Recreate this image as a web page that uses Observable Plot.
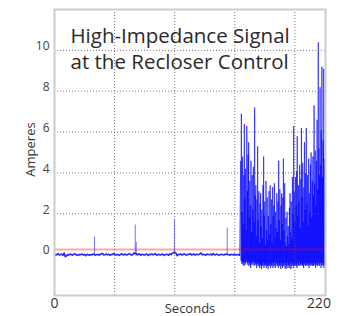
<!DOCTYPE html>
<html>
<head>
<meta charset="utf-8">
<script src="https://cdn.jsdelivr.net/npm/d3@7"></script>
<script src="https://cdn.jsdelivr.net/npm/@observablehq/plot@0.6"></script>
<style>
  html, body { margin: 0; padding: 0; background: #fff; }
  #chart { width: 343px; height: 316px; overflow: hidden; }
</style>
</head>
<body>
<div id="chart"></div>
<script>
// ---- Data ----
const titleLines = ["High-Impedance Signal", "at the Recloser Control"];
const xLabel = "Seconds";
const yLabel = "Amperes";
const xTickLabels = [0, 220];
const xGrid = [50, 100, 150, 200];
const yTicks = [0, 2, 4, 6, 8, 10];
const yGrid = [2, 4, 6, 8, 10];
const pickupLevel = 0.25;   // red threshold line (A)

// quiet period: one sample per second, t = 0 .. 154 s
const quietAmps = [
  0.02,-0.03,0.01,0.05,-0.02,0.0,0.03,-0.04,0.08,-0.1,
  -0.06,0.01,-0.02,0.03,0.0,-0.03,0.02,0.04,-0.01,0.0,
  -0.04,0.02,0.0,0.03,-0.02,0.01,-0.05,0.02,0.0,-0.03,
  0.01,-0.02,0.03,0.02,-0.04,0.0,0.02,-0.03,0.01,0.04,
  0.06,-0.02,0.0,0.03,-0.01,0.02,-0.03,0.01,0.0,0.05,
  0.03,-0.02,0.01,0.0,-0.04,0.02,0.04,-0.01,0.0,0.03,
  -0.02,0.01,0.05,0.02,-0.03,0.0,0.08,0.05,0.04,-0.02,
  0.04,0.01,-0.03,0.02,0.0,-0.02,0.03,0.01,-0.04,0.02,
  0.0,0.03,-0.01,0.02,0.05,-0.03,0.0,0.02,-0.02,0.01,
  0.03,-0.04,0.0,0.02,0.01,-0.03,0.04,0.0,0.06,0.1,
  0.12,0.08,-0.05,0.02,0.0,0.03,-0.02,0.01,0.04,0.0,
  -0.03,0.02,0.01,0.05,-0.01,0.0,0.03,-0.02,0.02,0.01,
  0.0,0.04,0.08,-0.01,0.02,0.0,-0.03,0.03,0.01,0.0,
  0.02,-0.02,0.05,0.0,-0.01,0.03,0.0,-0.04,0.02,0.01,
  0.0,-0.02,0.03,0.01,0.02,0.0,-0.03,0.02,0.0,-0.01,
  0.02,-0.02,0.0,0.01,-0.03
];
// brief spikes during the quiet period
const spikeTimes = [33.3, 67.2, 68.0, 99.8, 143.7];
const spikePeaks = [0.85, 1.45, 0.6, 1.7, 1.3];

// fault period: peaks every 0.5 s from t = 155 s, troughs in between
const faultStart = 155;
const faultPeaks = [
  4.6,6.9,2.1,4.8,1.5,3.9,6.4,2.8,4.2,1.2,
  6.3,3.1,4.9,5.5,1.8,3.6,2.4,4.6,1.1,3.9,
  2.2,4.3,1.6,7.2,2.9,3.4,0.9,2.7,5.3,1.7,
  3.1,0.6,2.5,3.0,1.4,2.2,0.8,3.4,4.8,1.9,
  2.6,0.5,3.6,1.2,2.8,0.7,1.9,3.1,1.0,3.4,
  1.5,2.7,0.6,3.3,1.9,2.4,3.5,0.8,2.1,1.3,
  3.0,1.1,2.6,4.6,1.7,3.2,0.7,2.4,3.0,1.5,
  2.8,4.7,1.2,3.5,0.6,1.8,0.4,2.1,0.9,1.4,
  0.5,2.3,3.0,1.1,2.6,0.8,3.8,2.0,6.3,3.1,
  1.6,3.8,2.4,4.1,5.8,1.9,3.4,2.6,4.4,1.3,
  3.7,6.2,2.8,4.5,1.6,3.3,5.5,2.2,4.0,6.2,
  2.5,3.9,1.4,4.7,3.0,2.1,4.4,5.0,1.8,3.6,
  4.8,2.9,7.3,3.5,5.1,2.4,4.6,6.6,3.2,10.4,
  5.2,3.9,8.2,4.4,6.1,9.2,3.8,5.6,9.1,4.7
];
const faultTroughs = [
  -0.3,-0.45,-0.35,-0.5,-0.4,-0.55,-0.35,-0.5,-0.4,-0.3,
  -0.4,-0.5,-0.35,-0.55,-0.4,-0.5,-0.65,-0.4,-0.5,-0.35,
  -0.5,-0.4,-0.55,-0.35,-0.5,-0.45,-0.65,-0.5,-0.35,-0.55,
  -0.45,-0.65,-0.5,-0.55,-0.7,-0.5,-0.55,-0.4,-0.65,-0.5,
  -0.55,-0.5,-0.65,-0.4,-0.55,-0.7,-0.5,-0.55,-0.4,-0.65,
  -0.5,-0.55,-0.4,-0.65,-0.5,-0.55,-0.35,-0.65,-0.5,-0.4,
  -0.55,-0.5,-0.65,-0.4,-0.55,-0.5,-0.7,-0.4,-0.55,-0.65,
  -0.5,-0.55,-0.4,-0.65,-0.5,-0.7,-0.55,-0.4,-0.65,-0.5,
  -0.55,-0.65,-0.4,-0.7,-0.5,-0.55,-0.4,-0.65,-0.5,-0.55,
  -0.4,-0.55,-0.5,-0.65,-0.4,-0.55,-0.5,-0.35,-0.55,-0.5,
  -0.5,-0.4,-0.55,-0.5,-0.65,-0.4,-0.5,-0.55,-0.4,-0.5,
  -0.55,-0.4,-0.5,-0.65,-0.5,-0.4,-0.55,-0.5,-0.4,-0.55,
  -0.5,-0.55,-0.4,-0.5,-0.65,-0.5,-0.4,-0.55,-0.5,-0.4,
  -0.55,-0.5,-0.4,-0.65,-0.5,-0.4,-0.55,-0.5,-0.65,-0.5
];

// ---- Build tables ----
const quiet = quietAmps.map((a, i) => ({t: i, a}));
const spikes = spikeTimes.map((t, i) => ({t, a: spikePeaks[i]}));
const faultPts = [{t: quietAmps.length - 1, a: quietAmps[quietAmps.length - 1]}];
faultPeaks.forEach((p, i) => {
  faultPts.push({t: faultStart + i * 0.5, a: p});
  faultPts.push({t: faultStart + i * 0.5 + 0.25, a: faultTroughs[i]});
});
// each sample-to-sample stroke as its own segment so overlapping strokes darken
const faultSegs = d3.pairs(faultPts).map(([p, q]) => ({t1: p.t, a1: p.a, t2: q.t, a2: q.a}));

const chart = Plot.plot({
  width: 343,
  height: 316,
  marginLeft: 54,
  marginRight: 18,
  marginTop: 9,
  marginBottom: 21,
  style: {fontFamily: "'Open Sans', sans-serif", color: "#333", background: "#fff"},
  x: {domain: [0, 225.5]},
  y: {domain: [-2, 12]},
  marks: [
    Plot.line(quiet, {x: "t", y: "a", stroke: "#0000ff", strokeOpacity: 0.85, strokeWidth: 1.6}),
    Plot.ruleX(spikes, {x: "t", y1: 0, y2: "a", stroke: "#0000ff", strokeOpacity: 0.55, strokeWidth: 1}),
    Plot.link(faultSegs, {x1: "t1", y1: "a1", x2: "t2", y2: "a2", stroke: "#0000ff", strokeOpacity: 0.55, strokeWidth: 1.1}),
    Plot.ruleY([pickupLevel], {stroke: "#ff0000", strokeOpacity: 0.35, strokeWidth: 2}),
    Plot.gridX(xGrid, {stroke: "#555", strokeOpacity: 0.8, strokeDasharray: "1,2"}),
    Plot.gridY(yGrid, {stroke: "#555", strokeOpacity: 0.8, strokeDasharray: "1,2"}),
    Plot.frame({stroke: "#ccc", strokeWidth: 2}),
    Plot.axisY(yTicks, {tickSize: 0, tickPadding: 5, dy: -4, fontSize: 12, label: null, fill: "#444"}),
    Plot.axisX(xTickLabels, {tickSize: 0, tickPadding: 3, fontSize: 14, label: null, fill: "#333"}),
    Plot.text([yLabel], {frameAnchor: "left", textAnchor: "middle", rotate: -90, dx: -29, dy: -3, lineAnchor: "top", fontSize: 13, fill: "#333"}),
    Plot.text([xLabel], {frameAnchor: "bottom", textAnchor: "middle", dy: 8, lineAnchor: "top", fontSize: 13, fill: "#333"}),
    Plot.text([titleLines.join("\n")], {frameAnchor: "top-left", textAnchor: "start", dx: 16, dy: 16, lineAnchor: "top", lineHeight: 1.23, fontSize: 20.5, fill: "#2a2a2a"})
  ]
});
document.getElementById("chart").appendChild(chart);
</script>
</body>
</html>
